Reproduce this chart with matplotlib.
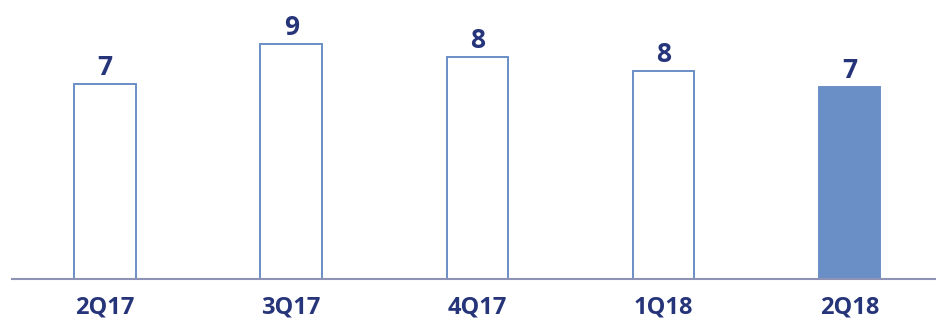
import matplotlib
matplotlib.use("Agg")
import matplotlib.pyplot as plt

quarters = ["2Q17", "3Q17", "4Q17", "1Q18", "2Q18"]
values = [7.3, 8.8, 8.3, 7.8, 7.2]
highlight = [False, False, False, False, True]

bar_color = "#6a8ec6"
text_color = "#26347a"
axis_color = "#8e92b4"

plt.rcParams["font.family"] = ["Open Sans", "DejaVu Sans"]

fig = plt.figure(figsize=(9.37, 3.27), dpi=100)
ax = fig.add_axes([12 / 937, 48 / 327, 1 - 12 / 937, 1 - 48 / 327])

x = list(range(len(quarters)))
for xi, v, h in zip(x, values, highlight):
    ax.bar(xi, v, width=0.33, color=bar_color if h else "white",
           edgecolor=bar_color, linewidth=1.4, zorder=2)
    ax.text(xi, v + 0.12, f"{v:.0f}", ha="center", va="bottom",
            fontsize=19, fontweight="bold", color=text_color)

ax.set_xlim(-0.5, 4.47)
ax.set_ylim(0, 10.45)
ax.set_xticks(x)
ax.set_xticklabels(quarters, fontsize=17, fontweight="bold", color=text_color)
ax.tick_params(axis="x", length=0, pad=12)
ax.set_yticks([])
for s in ["top", "right", "left"]:
    ax.spines[s].set_visible(False)
ax.spines["bottom"].set_color(axis_color)
ax.spines["bottom"].set_linewidth(1.5)

fig.savefig("out.png", dpi=100)
